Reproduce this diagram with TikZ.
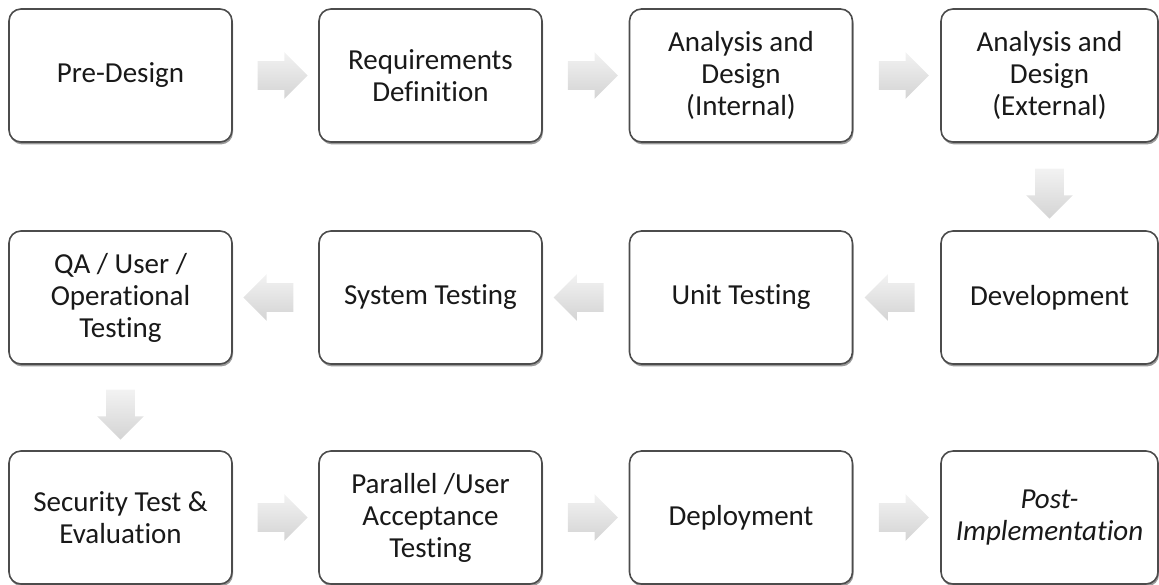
\documentclass[tikz,border=0pt]{standalone}
\usepackage{fontspec}
\setmainfont[Ligatures=NoCommon]{Carlito}
\usetikzlibrary{shapes.arrows,shadows,calc}

\tikzset{
  stage/.style={draw=black!70, line width=0.8pt, rounded corners=6pt, fill=white,
    minimum width=111.5pt, minimum height=66.5pt, align=center,
    inner sep=2pt, font=\fontsize{14.5}{16}\selectfont, text=black!90,
    drop shadow={shadow xshift=0.5pt, shadow yshift=-1.2pt, opacity=0.4, fill=black}},
  flow/.style={single arrow, draw=none, minimum height=25pt, minimum width=0pt,
    inner sep=7pt, single arrow head extend=4.5pt,
    top color=black!5, bottom color=black!17}
}

\begin{document}
\begin{tikzpicture}[x=0.5pt,y=-0.5pt]
    \useasboundingbox (0,0) rectangle (1159,584);

    \node[stage] (pre)  at (120.5,75.5) {Pre-Design};
    \node[stage] (req)  at (430.5,75.5) {Requirements\\Definition};
    \node[stage] (intl) at (741,75.5)   {Analysis and\\Design\\(Internal)};
    \node[stage, minimum width=108.5pt] (extl) at (1049.5,75.5) {Analysis and\\Design\\(External)};

    \node[stage] (qa)   at (120.5,297.5) {QA / User /\\Operational\\Testing};
    \node[stage] (sys)  at (430.5,297.5) {System Testing};
    \node[stage] (unit) at (741,297.5)   {Unit Testing};
    \node[stage, minimum width=108.5pt] (dev) at (1049.5,297.5) {Development};

    \node[stage] (sec)  at (120.5,517.5) {Security Test \&\\Evaluation};
    \node[stage] (par)  at (430.5,517.5) {Parallel /User\\Acceptance\\Testing};
    \node[stage] (dep)  at (741,517.5)   {Deployment};
    \node[stage, minimum width=108.5pt] (post) at (1049.5,517.5) {\itshape Post-\\\itshape Implementation};

    \node[flow] at ($(pre.east)!0.5!(req.west)$) {};
    \node[flow] at ($(req.east)!0.5!(intl.west)$) {};
    \node[flow] at ($(intl.east)!0.5!(extl.west)$) {};
    \node[flow, shape border rotate=270] at ($(extl.south)!0.5!(dev.north)$) {};
    \node[flow, shape border rotate=180] at ($(dev.west)!0.5!(unit.east)$) {};
    \node[flow, shape border rotate=180] at ($(unit.west)!0.5!(sys.east)$) {};
    \node[flow, shape border rotate=180] at ($(sys.west)!0.5!(qa.east)$) {};
    \node[flow, shape border rotate=270] at ($(qa.south)!0.5!(sec.north)$) {};
    \node[flow] at ($(sec.east)!0.5!(par.west)$) {};
    \node[flow] at ($(par.east)!0.5!(dep.west)$) {};
    \node[flow] at ($(dep.east)!0.5!(post.west)$) {};

  \end{tikzpicture}
\end{document}
